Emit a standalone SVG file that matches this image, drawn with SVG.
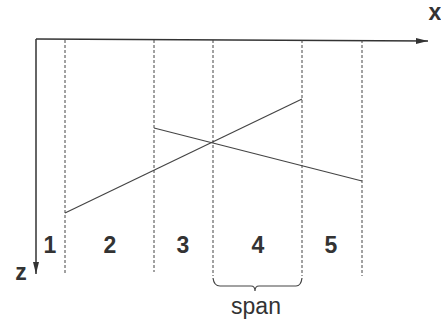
<svg xmlns="http://www.w3.org/2000/svg" width="441" height="321" viewBox="0 0 441 321">
<style>
.axis{stroke:#333;stroke-width:1.5;fill:none}
.dash{stroke:#444;stroke-width:1;stroke-dasharray:3,2;fill:none}
.ln{stroke:#444;stroke-width:1.2;fill:none}
.lbl{font-family:"Liberation Sans",Arial,sans-serif;font-size:23px;font-weight:bold;fill:#333;text-anchor:middle}
.txt{font-family:"Liberation Sans",Arial,sans-serif;font-size:23px;fill:#333;text-anchor:middle}
</style>
<defs>
<marker id="ah" markerWidth="12" markerHeight="8" refX="12" refY="4" orient="auto" markerUnits="userSpaceOnUse">
<path d="M0,1 L12,4 L0,7 Z" fill="#333"/>
</marker>
</defs>
<g id="connectors">
<line class="axis" x1="36" y1="39" x2="428" y2="41" marker-end="url(#ah)"/>
<line class="axis" x1="36" y1="39" x2="36" y2="274" marker-end="url(#ah)"/>
<line class="dash" x1="65" y1="40" x2="65" y2="273"/>
<line class="dash" x1="154" y1="40" x2="154" y2="272"/>
<line class="dash" x1="213" y1="40" x2="213" y2="276"/>
<line class="dash" x1="302" y1="40" x2="302" y2="276"/>
<line class="dash" x1="362" y1="40" x2="362" y2="276"/>
<line class="ln" x1="65" y1="213" x2="302" y2="99"/>
<line class="ln" x1="154" y1="128" x2="362" y2="181"/>
<path class="ln" d="M213,278 Q214,286 220,286 L251,286 Q255,286 255,291 Q255,286 259,286 L296,286 Q301,286 302,278"/>
</g>
<g id="labels">
<text class="txt" x="435" y="20" font-weight="bold">x</text>
<text class="txt" x="21" y="280" font-weight="bold">z</text>
<text class="lbl" x="50" y="253">1</text>
<text class="lbl" x="110" y="253">2</text>
<text class="lbl" x="183" y="253">3</text>
<text class="lbl" x="258" y="253">4</text>
<text class="lbl" x="331" y="253">5</text>
<text class="txt" x="256" y="314">span</text>
</g>
</svg>
